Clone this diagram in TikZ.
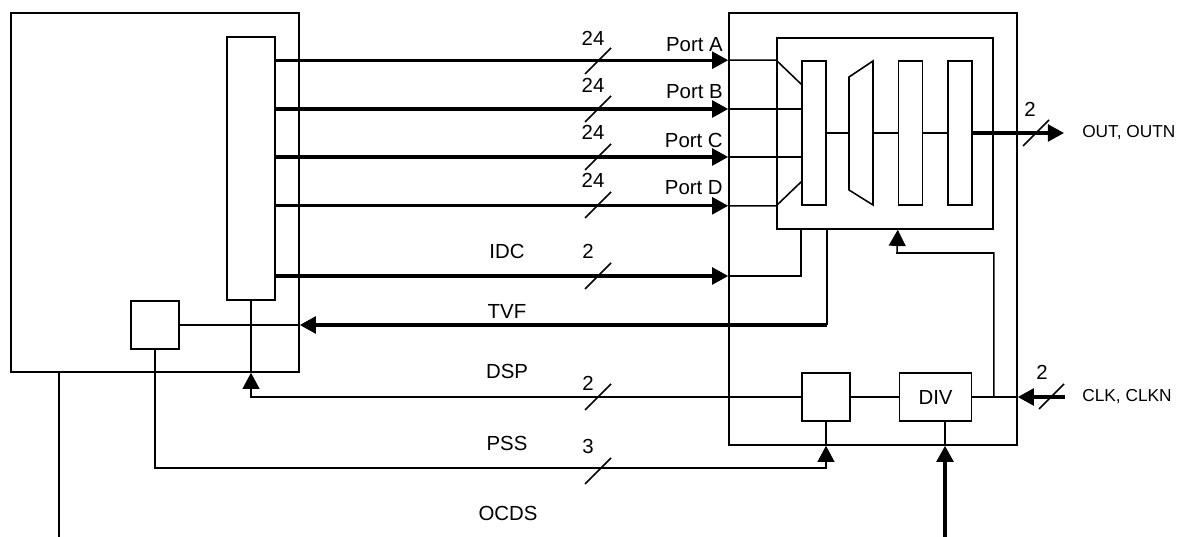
\documentclass[tikz,border=0pt]{standalone}
\usepackage{fontspec}
\setmainfont{Liberation Sans}
\usetikzlibrary{arrows.meta,positioning,fit,calc}

\begin{document}
\begin{tikzpicture}[
    x=0.025cm, y=-0.025cm,
    font=\fontsize{14.5}{16}\selectfont,
    blockBox/.style={
        rectangle, draw=black, line width=1.1pt, inner sep=0pt
    },
    stageBox/.style={
        rectangle, draw=black, line width=1.1pt, inner sep=0pt,
        minimum width=0.6cm, minimum height=3.6cm
    },
    smallBox/.style={
        rectangle, draw=black, line width=1.1pt, inner sep=0pt,
        minimum width=1.2cm, minimum height=1.2cm
    },
    sigLine/.style={line width=1.1pt, draw=black},
    busLine/.style={
        -{Triangle[length=11.5pt, width=12pt]}, line width=2.2pt, draw=black
    },
    ctlLine/.style={
        -{Triangle[length=11.5pt, width=12pt]}, line width=1.1pt, draw=black
    },
    slashMark/.style={line width=1.1pt, draw=black},
    labelTxt/.style={inner sep=0pt, anchor=center},
    sideTxt/.style={inner sep=0pt, anchor=west, font=\fontsize{12.3}{14}\selectfont}
]
\useasboundingbox (0,0) rectangle (1180,537);

% Left: source device
\node[blockBox, fit={(11,13) (299,372)}] (host) {};
\node[blockBox, fit={(227,37) (275,300)}] (reg) {};
\node[smallBox] (mon) at (155,325) {};

% Right: output device
\node[blockBox, fit={(729,13) (1017,445)}] (dev) {};
\node[blockBox, fit={(777,38) (993,229)}] (core) {};
\node[stageBox] (mux) at (814,133) {};
\node[stageBox, right=1.775cm of mux] (stg1) {};
\node[stageBox, right=0.6cm of stg1] (stg2) {};
\draw[sigLine] (849,77) -- (873,61) -- (873,205) -- (849,190) -- cycle;
\coordinate (selIn) at (849,133);
\coordinate (selOut) at (873,133);
\node[smallBox] (dspsq) at (826,397) {};
\node[smallBox, minimum width=1.8cm, right=1.2cm of dspsq] (div) {DIV};

% Rows and free ends
\coordinate (rowB) at (0,109);
\coordinate (rowC) at (0,157);
\coordinate (idcRow) at (0,276);
\coordinate (pssRow) at (0,468);
\coordinate (fbk) at (897,253);
\coordinate (outEnd) at (1064,133);
\coordinate (clkIn) at (1065,397);
\coordinate (divIn) at (945,537);
\coordinate (ocdsOut) at (59,537);

% Ports A-D
\draw[busLine] (reg.east |- mux.north) -- (dev.west |- mux.north);
\draw[busLine] (reg.east |- rowB) -- (dev.west |- rowB);
\draw[busLine] (reg.east |- rowC) -- (dev.west |- rowC);
\draw[busLine] (reg.east |- mux.south) -- (dev.west |- mux.south);
\draw[sigLine] (dev.west |- mux.north) -- (core.west |- mux.north) -- ($(mux.north west)+(0,24)$);
\draw[sigLine] (dev.west |- rowB) -- (mux.west |- rowB);
\draw[sigLine] (dev.west |- rowC) -- (mux.west |- rowC);
\draw[sigLine] (dev.west |- mux.south) -- (core.west |- mux.south) -- ($(mux.south west)+(0,-24)$);

% Pipeline
\draw[sigLine] (mux.east) -- (selIn);
\draw[sigLine] (selOut) -- (stg1.west);
\draw[sigLine] (stg1.east) -- (stg2.west);
\draw[busLine] (stg2.east) -- (outEnd);

% IDC and TVF
\draw[busLine] (reg.east |- idcRow) -- (dev.west |- idcRow);
\draw[sigLine] (dev.west |- idcRow) -| (mux.west |- core.south);
\draw[sigLine] (mux.east |- core.south) -- (mux.east |- mon.east);
\draw[busLine] (mux.east |- mon.east) -- (host.east |- mon.east);
\draw[sigLine] (mon.east) -- (host.east |- mon.east);

% DSP and PSS
\draw[sigLine] (reg.south) -- (reg.south |- host.south);
\draw[ctlLine] (dspsq.west) -| (reg.south |- host.south);
\draw[ctlLine] (mon.south) |- (dspsq.south |- pssRow) -- (dspsq.south |- dev.south);
\draw[sigLine] (dspsq.south |- dev.south) -- (dspsq.south);
\draw[sigLine] (dspsq.east) -- (div.west);

% Clock and divider
\draw[sigLine] (div.east) -- (dev.east |- div.east);
\draw[busLine] (clkIn) -- (dev.east |- clkIn);
\draw[ctlLine] (core.east |- div.east) |- (fbk) -- (stg1.west |- core.south);
\draw[busLine] (divIn) -- (divIn |- dev.south);
\draw[sigLine] (divIn |- dev.south) -- (divIn |- div.south);

% OCDS
\draw[sigLine] (ocdsOut |- host.south) -- (ocdsOut);

% Width marks
\draw[slashMark] (585,74) -- (611,48);
\draw[slashMark] (585,122) -- (611,96);
\draw[slashMark] (585,170) -- (611,144);
\draw[slashMark] (585,218) -- (611,192);
\draw[slashMark] (585,289) -- (611,263);
\draw[slashMark] (585,410) -- (611,384);
\draw[slashMark] (585,484) -- (611,458);
\draw[slashMark] (1023,146) -- (1049,120);
\draw[slashMark] (1039,409) -- (1064,384);

% Labels
\node[labelTxt] (wA) at (593,38) {24};
\node[labelTxt] (wB) at (593,85) {24};
\node[labelTxt] (wC) at (593,132) {24};
\node[labelTxt] (wD) at (593,180) {24};
\node[labelTxt, anchor=east] (pA) at (723,45) {Port A};
\node[labelTxt, anchor=east] (pB) at (723,92) {Port B};
\node[labelTxt, anchor=east] (pC) at (723,140) {Port C};
\node[labelTxt, anchor=east] (pD) at (723,188) {Port D};
\node[labelTxt] (idc) at (507,251) {IDC};
\node[labelTxt] (wIdc) at (588,251) {2};
\node[labelTxt] (tvf) at (507,311) {TVF};
\node[labelTxt] (dsp) at (507,371) {DSP};
\node[labelTxt] (wDsp) at (588,383) {2};
\node[labelTxt] (pss) at (507,443) {PSS};
\node[labelTxt] (wPss) at (588,446) {3};
\node[labelTxt] (ocds) at (508,513) {OCDS};
\node[labelTxt] (wOut) at (1030,109) {2};
\node[sideTxt] (out) at (1082,133) {OUT, OUTN};
\node[labelTxt] (wClk) at (1042,372) {2};
\node[sideTxt] (clk) at (1082,397) {CLK, CLKN};

\end{tikzpicture}
\end{document}
